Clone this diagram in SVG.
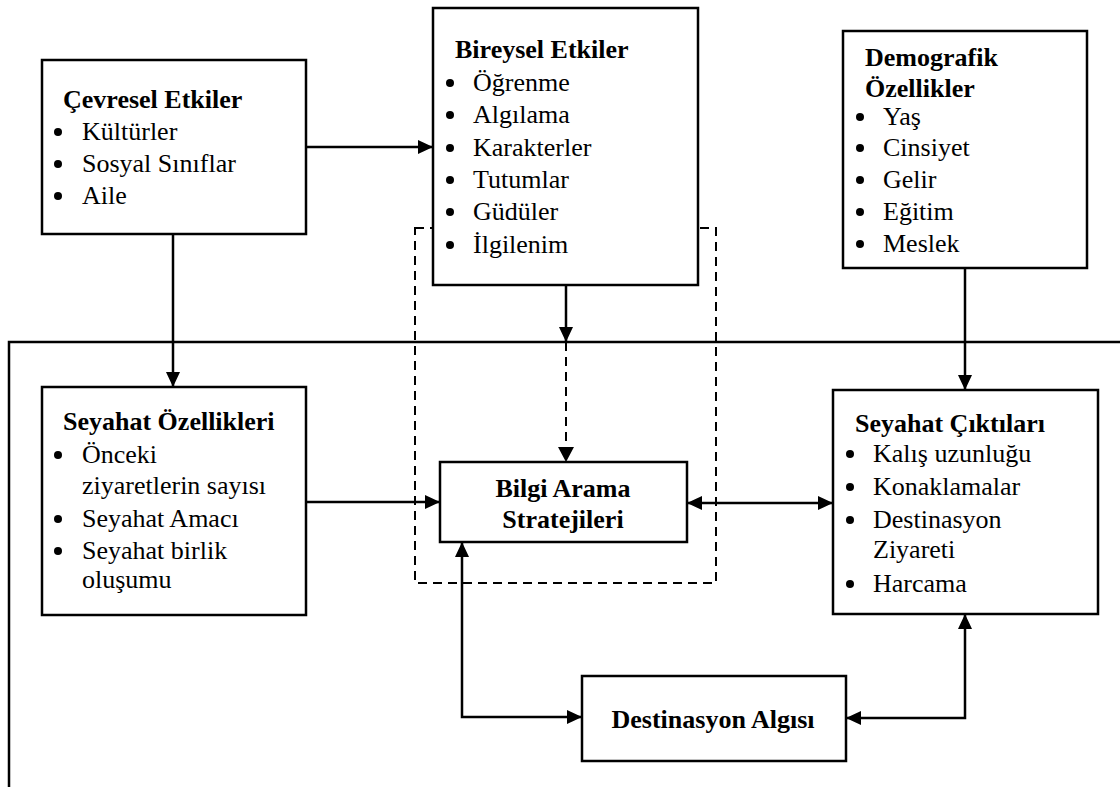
<svg xmlns="http://www.w3.org/2000/svg" width="1120" height="787" viewBox="0 0 1120 787">
<style>
.box{fill:#fff;stroke:#000;stroke-width:2.5}
.t{font-family:'Liberation Serif',serif;font-size:26px;fill:#000}
.b{font-weight:bold}
.ln{fill:none;stroke:#000;stroke-width:2.5}
.dash{fill:none;stroke:#000;stroke-width:2;stroke-dasharray:9,6}
.bul{fill:#000}
</style>
<defs>
<marker id="ah" markerUnits="userSpaceOnUse" markerWidth="16" markerHeight="14" refX="15" refY="7" orient="auto-start-reverse">
<path d="M0,0 L15,7 L0,14 z" fill="#000"/>
</marker>
</defs>
<rect width="1120" height="787" fill="#fff"/>
<g id="frame">
<path class="ln" d="M9,787 V342 H1120"/>
</g>
<g id="dashed-region">
<rect class="dash" x="415" y="228" width="301" height="355"/>
</g>
<g id="connectors">
<line class="ln" x1="306" y1="147" x2="433" y2="147" marker-end="url(#ah)"/>
<line class="ln" x1="173" y1="234" x2="173" y2="387" marker-end="url(#ah)"/>
<line class="ln" x1="566" y1="285" x2="566" y2="342" marker-end="url(#ah)"/>
<line class="dash" x1="566" y1="342" x2="566" y2="448"/>
<path d="M558,447 L566,462 L574,447 z" fill="#000"/>
<line class="ln" x1="965" y1="268" x2="965" y2="390" marker-end="url(#ah)"/>
<line class="ln" x1="306" y1="502" x2="440" y2="502" marker-end="url(#ah)"/>
<line class="ln" x1="687" y1="503" x2="833" y2="503" marker-start="url(#ah)" marker-end="url(#ah)"/>
<path class="ln" d="M462,542 V717 H582" marker-start="url(#ah)" marker-end="url(#ah)"/>
<path class="ln" d="M846,718 H965 V614" marker-start="url(#ah)" marker-end="url(#ah)"/>
</g>
<g id="cevresel">
<rect class="box" x="42" y="60" width="264" height="174"/>
<text class="t b" x="63" y="108">Çevresel Etkiler</text>
<circle class="bul" cx="58" cy="132" r="4"/><text class="t" x="82" y="140">Kültürler</text>
<circle class="bul" cx="58" cy="164" r="4"/><text class="t" x="82" y="172">Sosyal Sınıflar</text>
<circle class="bul" cx="58" cy="196" r="4"/><text class="t" x="82" y="204">Aile</text>
</g>
<g id="bireysel">
<rect class="box" x="433" y="8" width="265" height="277"/>
<text class="t b" x="455" y="58">Bireysel Etkiler</text>
<circle class="bul" cx="450" cy="83" r="4"/><text class="t" x="473" y="91">Öğrenme</text>
<circle class="bul" cx="450" cy="115" r="4"/><text class="t" x="473" y="123">Algılama</text>
<circle class="bul" cx="450" cy="148" r="4"/><text class="t" x="473" y="156">Karakterler</text>
<circle class="bul" cx="450" cy="180" r="4"/><text class="t" x="473" y="188">Tutumlar</text>
<circle class="bul" cx="450" cy="212" r="4"/><text class="t" x="473" y="220">Güdüler</text>
<circle class="bul" cx="450" cy="245" r="4"/><text class="t" x="473" y="253">İlgilenim</text>
</g>
<g id="demografik">
<rect class="box" x="843" y="31" width="244" height="237"/>
<text class="t b" x="865" y="66">Demografik</text>
<text class="t b" x="865" y="97">Özellikler</text>
<circle class="bul" cx="860" cy="117" r="4"/><text class="t" x="883" y="125">Yaş</text>
<circle class="bul" cx="860" cy="148" r="4"/><text class="t" x="883" y="156">Cinsiyet</text>
<circle class="bul" cx="860" cy="180" r="4"/><text class="t" x="883" y="188">Gelir</text>
<circle class="bul" cx="860" cy="212" r="4"/><text class="t" x="883" y="220">Eğitim</text>
<circle class="bul" cx="860" cy="244" r="4"/><text class="t" x="883" y="252">Meslek</text>
</g>
<g id="seyahat-ozellikleri">
<rect class="box" x="42" y="387" width="264" height="228"/>
<text class="t b" x="63" y="430">Seyahat Özellikleri</text>
<circle class="bul" cx="58" cy="455" r="4"/><text class="t" x="82" y="463">Önceki</text>
<text class="t" x="82" y="494">ziyaretlerin sayısı</text>
<circle class="bul" cx="58" cy="519" r="4"/><text class="t" x="82" y="527">Seyahat Amacı</text>
<circle class="bul" cx="58" cy="551" r="4"/><text class="t" x="82" y="559">Seyahat birlik</text>
<text class="t" x="82" y="588">oluşumu</text>
</g>
<g id="bilgi-arama">
<rect class="box" x="440" y="462" width="247" height="80"/>
<text class="t b" x="563" y="497" text-anchor="middle">Bilgi Arama</text>
<text class="t b" x="563" y="528" text-anchor="middle">Stratejileri</text>
</g>
<g id="seyahat-ciktilari">
<rect class="box" x="833" y="390" width="265" height="224"/>
<text class="t b" x="855" y="432">Seyahat Çıktıları</text>
<circle class="bul" cx="850" cy="454" r="4"/><text class="t" x="873" y="462">Kalış uzunluğu</text>
<circle class="bul" cx="850" cy="487" r="4"/><text class="t" x="873" y="495">Konaklamalar</text>
<circle class="bul" cx="850" cy="520" r="4"/><text class="t" x="873" y="528">Destinasyon</text>
<text class="t" x="873" y="558">Ziyareti</text>
<circle class="bul" cx="850" cy="584" r="4"/><text class="t" x="873" y="592">Harcama</text>
</g>
<g id="destinasyon-algisi">
<rect class="box" x="582" y="676" width="264" height="85"/>
<text class="t b" x="713" y="728" text-anchor="middle">Destinasyon Algısı</text>
</g>
</svg>
